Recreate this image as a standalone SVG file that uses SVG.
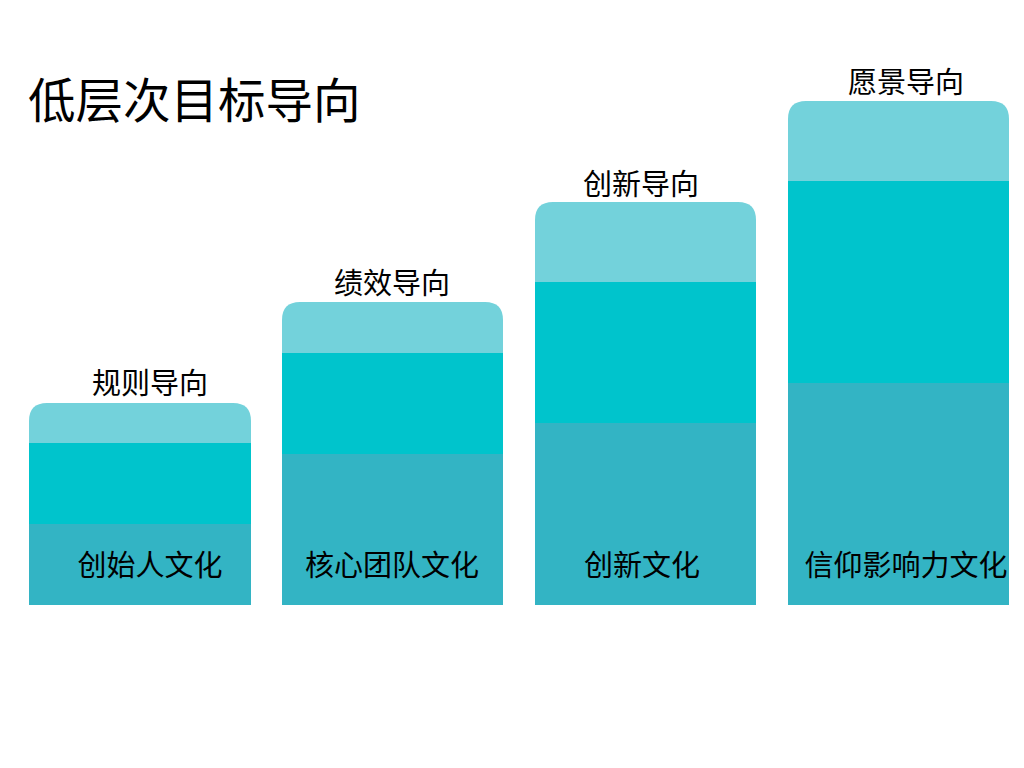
<svg xmlns="http://www.w3.org/2000/svg" width="1024" height="768" viewBox="0 0 1024 768">
<style>
text{font-family:"Noto Sans CJK SC","Noto Sans",sans-serif;fill:#000;}
.t{font-size:47.5px;}
.l{font-size:29px;text-anchor:middle;}
.a{fill:#73D2DB;}
.b{fill:#00C4CC;}
.c{fill:#33B4C4;}
</style>
<rect width="1024" height="768" fill="#fff"/>
<text class="t" x="28" y="118">低层次目标导向</text>
<g id="col1">
<path class="a" d="M29,443 V421 Q29,403 47,403 H233 Q251,403 251,421 V443 Z"/>
<rect class="b" x="29" y="443" width="222" height="81"/>
<rect class="c" x="29" y="524" width="222" height="81"/>
<text class="l" x="150" y="394">规则导向</text>
<text class="l" x="150" y="576">创始人文化</text>
</g>
<g id="col2">
<path class="a" d="M282,353 V320 Q282,302 300,302 H485 Q503,302 503,320 V353 Z"/>
<rect class="b" x="282" y="353" width="221" height="101"/>
<rect class="c" x="282" y="454" width="221" height="151"/>
<text class="l" x="392" y="294">绩效导向</text>
<text class="l" x="392" y="576">核心团队文化</text>
</g>
<g id="col3">
<path class="a" d="M535,282 V220 Q535,202 553,202 H738 Q756,202 756,220 V282 Z"/>
<rect class="b" x="535" y="282" width="221" height="141"/>
<rect class="c" x="535" y="423" width="221" height="182"/>
<text class="l" x="641" y="195">创新导向</text>
<text class="l" x="642" y="576">创新文化</text>
</g>
<g id="col4">
<path class="a" d="M788,181 V119 Q788,101 806,101 H991 Q1009,101 1009,119 V181 Z"/>
<rect class="b" x="788" y="181" width="221" height="202"/>
<rect class="c" x="788" y="383" width="221" height="222"/>
<text class="l" x="906" y="93">愿景导向</text>
<text class="l" x="906" y="576">信仰影响力文化</text>
</g>
<g id="connectors"/>
</svg>
